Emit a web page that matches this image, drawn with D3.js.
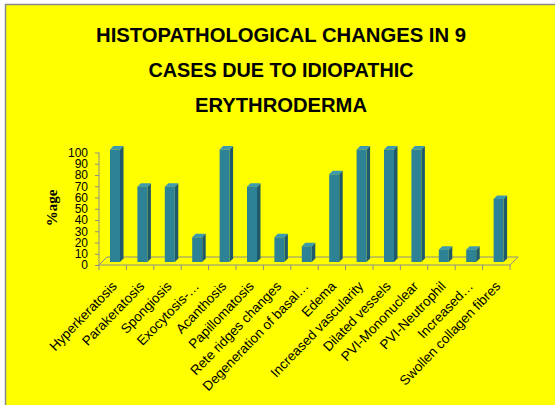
<!DOCTYPE html>
<html><head><meta charset="utf-8">
<script src="https://cdn.jsdelivr.net/npm/d3@7"></script>
<style>html,body{margin:0;padding:0;background:#fff;}svg{display:block;}</style>
</head><body>
<svg id="c" width="555" height="405"></svg>
<script>
const titleLines = ["HISTOPATHOLOGICAL  CHANGES IN 9", "CASES DUE TO IDIOPATHIC", "ERYTHRODERMA"];
const titleWidths = [370, 265, 172];
const categories = ["Hyperkeratosis","Parakeratosis","Spongiosis","Exocytosis-…","Acanthosis","Papillomatosis","Rete ridges changes","Degeneration of basal…","Edema","Increased vascularity","Dilated vessels","PVI-Mononuclear","PVI-Neutrophil","Increased…","Swollen collagen fibres"];
const values = [100, 67, 67, 22, 100, 67, 22, 14, 78, 100, 100, 100, 11, 11, 56];
const yTicks = [0,10,20,30,40,50,60,70,80,90,100];
const yTitle = "%age";

const svg = d3.select("#c");
svg.append("rect").attr("x",5).attr("y",4).attr("width",550).attr("height",401).attr("fill","#FFFF00");
svg.append("path").attr("d","M5.5,405V4.5H555").attr("fill","none").attr("stroke","#8a8a8a").attr("stroke-width",1.5);

const x = d3.scaleBand().domain(categories).range([99, 510]);
const y = d3.scaleLinear().domain([0,100]).range([265, 152.5]);
const depth = 8, bd = 3.5, barOff = -3;

// title
svg.append("g").selectAll("text").data(titleLines).join("text")
  .attr("x",281).attr("y",(d,i)=>42+i*35)
  .attr("text-anchor","middle")
  .attr("textLength",(d,i)=>titleWidths[i]).attr("lengthAdjust","spacingAndGlyphs")
  .attr("font-family","'Liberation Sans',Arial,sans-serif")
  .attr("font-weight","bold").attr("font-size",21).attr("fill","#000")
  .text(d=>d);

const axisColor = "#8c8c8c";
// floor
const x0 = x.range()[0], x1 = x.range()[1], y0 = y(0);
svg.append("path")
  .attr("d",`M${x0},${y0}L${x1},${y0}L${x1+depth},${y0-depth}L${x0+depth},${y0-depth}Z`)
  .attr("fill","none").attr("stroke",axisColor).attr("stroke-width",1);

// y axis
const yAxis = d3.axisLeft(y).tickValues(yTicks).tickSize(4).tickPadding(7);
const gy = svg.append("g").attr("transform",`translate(${x0},0)`).call(yAxis);
gy.selectAll("path,line").attr("stroke",axisColor);
gy.selectAll("text").attr("font-family","'Liberation Sans',Arial,sans-serif").attr("font-size",12).attr("fill","#000");
gy.select(".domain").attr("d",`M0,${y(0)}V${y(100)}`);

// x axis ticks
const bounds = categories.map(c=>x(c)).concat([x1]);
svg.append("g").selectAll("line").data(bounds).join("line")
  .attr("x1",d=>d).attr("x2",d=>d).attr("y1",y0).attr("y2",y0+5)
  .attr("stroke",axisColor);

// bars
const bw = 10;
const bars = svg.append("g").selectAll("g").data(categories).join("g");
bars.each(function(c,i){
  const g = d3.select(this);
  const fx = x(c)+11, top = y(values[i])+barOff, bot = y(0)+barOff;
  g.append("path").attr("d",`M${fx+bw},${top}L${fx+bw+bd},${top-bd}L${fx+bw+bd},${bot-bd}L${fx+bw},${bot}Z`).attr("fill","#1E5A6B");
  g.append("path").attr("d",`M${fx},${top}L${fx+bd},${top-bd}L${fx+bw+bd},${top-bd}L${fx+bw},${top}Z`).attr("fill","#3C9AB0");
  g.append("rect").attr("x",fx).attr("y",top).attr("width",bw).attr("height",bot-top).attr("fill","#2E8296");
});

// x labels
svg.append("g").selectAll("text").data(categories).join("text")
  .attr("transform",c=>`translate(${x(c)+x.bandwidth()/2+5},${y0+22}) rotate(-46)`)
  .attr("text-anchor","end")
  .attr("font-family","'Liberation Sans',Arial,sans-serif").attr("font-size",13.5).attr("fill","#000")
  .text(d=>d);

// y title
svg.append("text").attr("transform","translate(57,208) rotate(-90)")
  .attr("text-anchor","middle")
  .attr("font-family","'Liberation Serif','Times New Roman',serif").attr("font-weight","bold").attr("font-size",15)
  .text(yTitle);
</script>
</body></html>
